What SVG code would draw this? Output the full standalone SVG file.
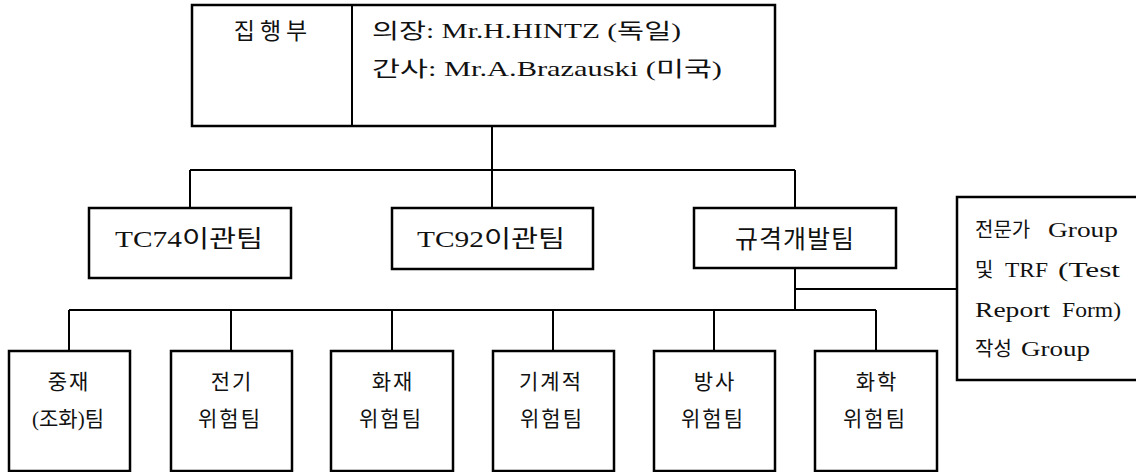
<svg xmlns="http://www.w3.org/2000/svg" width="1136" height="472" viewBox="0 0 1136 472">
<style>
.box{fill:#fff;stroke:#000;stroke-width:2.5}
.ln{fill:none;stroke:#000;stroke-width:2}
text{font-family:"Liberation Serif","Noto Sans CJK KR",serif;fill:#111}
.t21{font-size:21px}
.t22{font-size:22px}
.t24{font-size:24px}
.t20{font-size:20px}
.c{text-anchor:middle}
.ls{letter-spacing:2px}
</style>
<rect width="1136" height="472" fill="#fff"/>
<g id="connectors">
<path class="ln" d="M492,126V170M190,170H795M190,170V208M492,170V208M795,170V208"/>
<path class="ln" d="M795,268V310M795,289H957M69,310H876M69,310V351M231,310V351M392,310V351M553,310V351M714,310V351M876,310V351"/>
</g>
<g id="exec">
<rect class="box" x="192" y="5" width="583" height="121"/>
<line class="ln" x1="352" y1="5" x2="352" y2="126" stroke-width="2.5"/>
<text class="c" x="273" y="39" font-size="23" letter-spacing="5">집행부</text>
<text class="t21" x="372" y="38" textLength="309" lengthAdjust="spacingAndGlyphs">의장: Mr.H.HINTZ (독일)</text>
<text class="t21" x="372" y="76" textLength="350" lengthAdjust="spacingAndGlyphs">간사: Mr.A.Brazauski (미국)</text>
</g>
<g id="tc74">
<rect class="box" x="89" y="208" width="202" height="70"/>
<text class="t24" x="115" y="247" textLength="148" lengthAdjust="spacingAndGlyphs">TC74이관팀</text>
</g>
<g id="tc92">
<rect class="box" x="392" y="208" width="201" height="61"/>
<text class="t24" x="417" y="247" textLength="148" lengthAdjust="spacingAndGlyphs">TC92이관팀</text>
</g>
<g id="stddev">
<rect class="box" x="694" y="208" width="202" height="60"/>
<text class="c" x="795" y="248" font-size="25" letter-spacing="1">규격개발팀</text>
</g>
<g id="expert">
<rect class="box" x="957" y="197" width="190" height="183"/>
<text class="t20" x="975" y="237">전문가</text>
<text class="t22" x="1048" y="237" textLength="70" lengthAdjust="spacingAndGlyphs">Group</text>
<text class="t20" x="975" y="277">및</text>
<text class="t22" x="1005" y="277" textLength="43" lengthAdjust="spacingAndGlyphs">TRF</text>
<text class="t22" x="1058" y="277" textLength="62" lengthAdjust="spacingAndGlyphs">(Test</text>
<text class="t22" x="975" y="317" textLength="75" lengthAdjust="spacingAndGlyphs">Report</text>
<text class="t22" x="1062" y="317" textLength="59" lengthAdjust="spacingAndGlyphs">Form)</text>
<text class="t20" x="975" y="356">작성</text>
<text class="t22" x="1021" y="356" textLength="69" lengthAdjust="spacingAndGlyphs">Group</text>
</g>
<g id="team1">
<rect class="box" x="9" y="351" width="121" height="120"/>
<text class="t21 c ls" x="69" y="389">중재</text>
<text class="t21 c" x="68" y="426">(조화)팀</text>
</g>
<g id="team2">
<rect class="box" x="171" y="351" width="121" height="120"/>
<text class="t21 c ls" x="232" y="389">전기</text>
<text class="t21 c ls" x="230" y="426">위험팀</text>
</g>
<g id="team3">
<rect class="box" x="331" y="351" width="122" height="120"/>
<text class="t21 c ls" x="393" y="389">화재</text>
<text class="t21 c ls" x="391" y="426">위험팀</text>
</g>
<g id="team4">
<rect class="box" x="493" y="351" width="121" height="120"/>
<text class="t21 c ls" x="551" y="389">기계적</text>
<text class="t21 c ls" x="552" y="426">위험팀</text>
</g>
<g id="team5">
<rect class="box" x="654" y="351" width="121" height="120"/>
<text class="t21 c ls" x="715" y="389">방사</text>
<text class="t21 c ls" x="713" y="426">위험팀</text>
</g>
<g id="team6">
<rect class="box" x="815" y="351" width="122" height="120"/>
<text class="t21 c ls" x="877" y="389">화학</text>
<text class="t21 c ls" x="875" y="426">위험팀</text>
</g>
</svg>
